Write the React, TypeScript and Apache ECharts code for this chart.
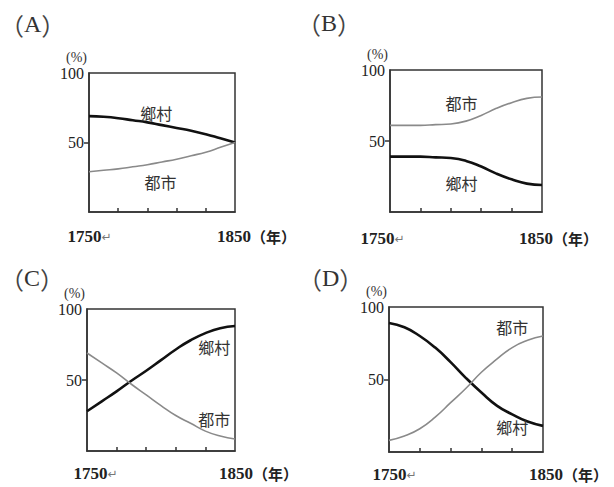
import React, { useEffect, useRef } from "react";
import * as echarts from "echarts";

const years = [1750, 1760, 1770, 1780, 1790, 1800, 1810, 1820, 1830, 1840, 1850];

const ruralA = [69, 68.5, 67.5, 66, 64.5, 62.5, 60.5, 58.5, 56, 53, 50];
const urbanA = [29, 30, 31, 32.5, 34, 36, 38, 40.5, 43, 46.5, 50];

const ruralB = [39, 39, 39, 38.5, 38, 36, 32, 27, 23, 20, 19];
const urbanB = [61, 61, 61, 61.5, 62, 64, 68, 73, 77, 80, 81];

const ruralC = [28, 35, 42, 49.5, 56.5, 64, 71.5, 78, 83, 86.5, 88];
const urbanC = [69, 62, 55, 47, 39.5, 32, 25, 19.5, 14, 10.5, 8.5];

const ruralD = [89, 86, 80, 72, 62, 51, 41, 32, 26, 21, 18];
const urbanD = [8, 11, 16, 24, 34, 44, 55, 64, 72, 77, 80];

const panelLetters = ["A", "B", "C", "D"];
const ruralName = "鄉村";
const urbanName = "都市";
const yTickLabels = [50, 100];
const yTicks = [50];
const xTicks = [1770, 1790, 1810, 1830];
const xLabelValues = [1750, 1850];
const yName = "(%)";

// label anchor points in data coords [year, %]
const ruralLabelAt = [[1796, 71], [1797, 20.4], [1836, 73.4], [1830, 17]];
const urbanLabelAt = [[1799, 21.6], [1797, 76.8], [1836, 22.3], [1830, 86]];

const ruralSets = [ruralA, ruralB, ruralC, ruralD];
const urbanSets = [urbanA, urbanB, urbanC, urbanD];

// layout (pixels)
const grids = [
  { left: 89, top: 73, width: 146, height: 139 },
  { left: 390, top: 70, width: 152, height: 142 },
  { left: 87, top: 309, width: 148, height: 142 },
  { left: 389, top: 307, width: 154, height: 145 },
];
const titlePos = [
  { left: 0, top: 12 },
  { left: 297, top: 11 },
  { left: 0, top: 266 },
  { left: 298, top: 266 },
];
const labelMargin = [16, 18, 14, 14];
const pad1750 = [1, -15, 17, 11];
const pad1850 = [43, 33, 47, 51];

export default function App() {
  const ref = useRef<HTMLDivElement>(null);
  useEffect(() => {
    if (!ref.current) return;
    const chart = echarts.init(ref.current, null, { renderer: "svg" });
    const serif = "Liberation Serif";
    const cjk = "Noto Sans CJK TC";

    const xAxis = grids.map((_, i) => ({
      type: "value",
      gridIndex: i,
      min: 1750,
      max: 1850,
      splitLine: { show: false },
      axisLine: { show: true, lineStyle: { color: "#333", width: 1.5 } },
      axisTick: {
        show: true,
        inside: true,
        length: 4,
        customValues: xTicks,
        lineStyle: { color: "#333", width: 1.5 },
      },
      axisLabel: {
        show: true,
        customValues: xLabelValues,
        margin: labelMargin[i],
        formatter: (v: number) =>
          v === 1750
            ? `{a${i}|1750}{b${i}|↵}`
            : v === 1850
            ? `{c${i}|1850}{d|（年）}`
            : "",
        rich: {
          [`a${i}`]: {
            fontFamily: serif,
            fontWeight: "bold",
            fontSize: 17,
            color: "#222",
            padding: [0, 0, 0, Math.max(pad1750[i], 0)],
          },
          [`b${i}`]: {
            fontFamily: "DejaVu Sans",
            fontSize: 12,
            color: "#777",
            padding: [0, Math.max(-pad1750[i], 0), 0, 0],
          },
          [`c${i}`]: {
            fontFamily: serif,
            fontWeight: "bold",
            fontSize: 17,
            color: "#222",
            padding: [0, 0, 0, pad1850[i]],
          },
          d: { fontFamily: cjk, fontWeight: "bold", fontSize: 15, color: "#222" },
        },
      },
    }));

    const yAxis = grids.map((_, i) => ({
      type: "value",
      gridIndex: i,
      min: 0,
      max: 100,
      name: yName,
      nameLocation: "end",
      nameGap: 9,
      nameTextStyle: {
        fontFamily: serif,
        fontSize: 14,
        color: "#333",
        align: "right",
        padding: [0, 2, 0, 0],
      },
      splitLine: { show: false },
      axisLine: { show: true, lineStyle: { color: "#333", width: 1.5 } },
      axisTick: {
        show: true,
        inside: false,
        length: 5,
        customValues: yTicks,
        lineStyle: { color: "#333", width: 1.5 },
      },
      axisLabel: {
        show: true,
        customValues: yTickLabels,
        margin: 5,
        fontFamily: serif,
        fontSize: 16,
        color: "#222",
      },
    }));

    const labelStyle = {
      show: true,
      position: "inside",
      fontFamily: cjk,
      fontSize: 16,
      color: "#333",
    };

    const series: any[] = [];
    grids.forEach((_, i) => {
      series.push({
        type: "line",
        name: ruralName,
        xAxisIndex: i,
        yAxisIndex: i,
        data: years.map((y, k) => [y, ruralSets[i][k]]),
        smooth: 0.5,
        showSymbol: false,
        lineStyle: { color: "#111", width: 2.6 },
        markPoint: {
          symbol: "circle",
          symbolSize: 0,
          label: { ...labelStyle, formatter: ruralName },
          data: [{ coord: ruralLabelAt[i] }],
        },
      });
      series.push({
        type: "line",
        name: urbanName,
        xAxisIndex: i,
        yAxisIndex: i,
        data: years.map((y, k) => [y, urbanSets[i][k]]),
        smooth: 0.5,
        showSymbol: false,
        lineStyle: { color: "#8a8a8a", width: 1.6 },
        markPoint: {
          symbol: "circle",
          symbolSize: 0,
          label: { ...labelStyle, formatter: urbanName },
          data: [{ coord: urbanLabelAt[i] }],
        },
      });
    });

    chart.setOption({
      animation: false,
      backgroundColor: "#fff",
      graphic: panelLetters.map((t, i) => ({
        type: "text",
        left: titlePos[i].left,
        top: titlePos[i].top,
        style: {
          text: `{p|（}{a|${t}}{p|）}`,
          rich: {
            p: { fontFamily: "Noto Sans CJK JP", fontSize: 24, fill: "#444", color: "#444" },
            a: { fontFamily: serif, fontSize: 24, fill: "#333", color: "#333" },
          },
        },
      })),
      grid: grids.map((g) => ({
        ...g,
        show: true,
        borderColor: "#333",
        borderWidth: 1.5,
        backgroundColor: "transparent",
      })),
      xAxis,
      yAxis,
      series,
    });
    return () => chart.dispose();
  }, []);
  return (
    <div
      ref={ref}
      style={{ position: "fixed", left: 0, top: 0, width: 614, height: 487 }}
    />
  );
}
